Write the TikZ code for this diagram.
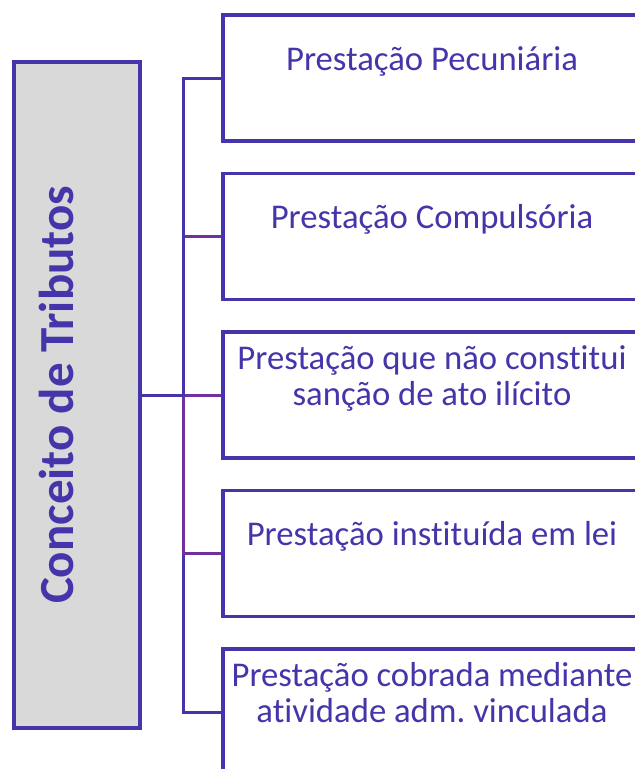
\documentclass[tikz,border=0pt]{standalone}
\usepackage{fontspec}
\setmainfont{Carlito}[Ligatures={NoCommon, NoContextual}]
\usetikzlibrary{positioning, calc, backgrounds}
\definecolor{tribblue}{RGB}{69,53,170}
\definecolor{tribpurple}{RGB}{112,48,160}
\definecolor{tribgray}{RGB}{217,217,217}
\tikzset{
	rootbox/.style={draw=tribblue, fill=tribgray, line width=3.3pt, minimum width=126pt, minimum height=666pt, inner sep=0pt},
	itembox/.style={draw=tribblue, fill=white, line width=3.3pt, minimum width=418pt, minimum height=126pt, inner sep=0pt},
	itemtext/.style={text=tribblue, font=\frenchspacing\fontsize{34.7}{36}\selectfont, align=center, inner sep=0pt, anchor=base},
	titletext/.style={text=tribblue, font=\bfseries\fontsize{49}{52}\selectfont, inner sep=0pt, rotate=90, anchor=base},
	linkb/.style={draw=tribblue, line width=3pt},
	linkp/.style={draw=tribpurple, line width=3pt},
}

\begin{document}
\begin{tikzpicture}[x=1pt, y=-1pt]
		\useasboundingbox (0, 0) rectangle (635, 769);
		\clip (0, 0) rectangle (635, 769);
		
		\node[rootbox] (root) at (77, 395) {};
		\node[titletext] (title) at (73, 395) {Conceito de Tributos};
		
		\node[itembox] (b1) at (432, 78) {};
		\node[itembox] (b2) at (432, 236.5) {};
		\node[itembox] (b3) at (432, 395) {};
		\node[itembox] (b4) at (432, 553.5) {};
		\node[itembox] (b5) at (432, 712) {};
		
		% base of a two-line text is its last line
		\node[itemtext] (t1) at ($(b1.north) + (0, 57)$) {Prestação Pecuniária};
		\node[itemtext] (t2) at ($(b2.north) + (0, 57)$) {Prestação Compulsória};
		\node[itemtext] (t3) at ($(b3.north) + (0, 75)$) {Prestação que não constitui\\sanção de ato ilícito};
		\node[itemtext] (t4) at ($(b4.north) + (0, 57)$) {Prestação instituída em lei};
		\node[itemtext] (t5) at ($(b5.north) + (0, 75)$) {Prestação cobrada mediante\\atividade adm. vinculada};
		
		\begin{scope}[on background layer]
			\draw[linkb] (root.east) -- ++(41.5, 0) |- (b5.west);
			\draw[linkp] (root.east) -- ++(41.5, 0) |- (b2.west);
			\draw[linkp] (root.east) -- (b3.west);
			\draw[linkp] (root.east) -- ++(41.5, 0) |- (b4.west);
			\draw[linkb] (root.east) -- ++(41.5, 0) |- (b1.west);
		\end{scope}
	\end{tikzpicture}
\end{document}
